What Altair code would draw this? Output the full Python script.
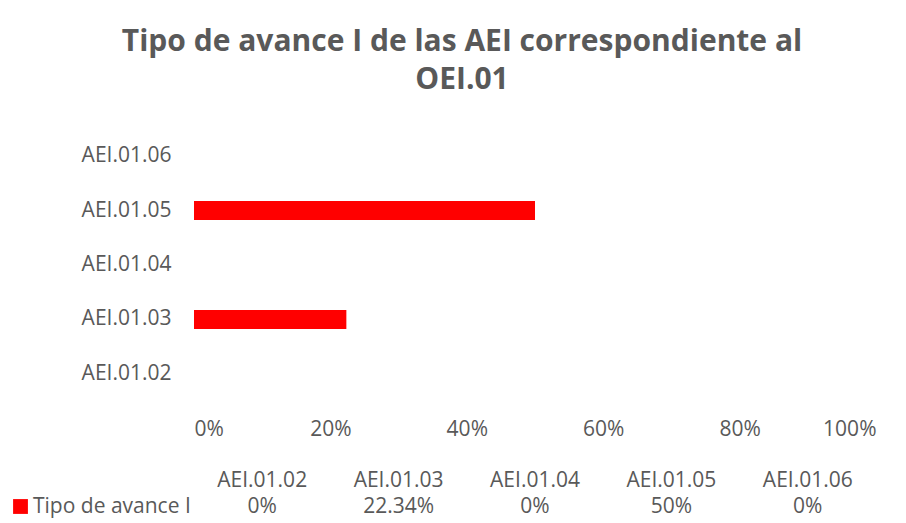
import altair as alt
import pandas as pd

title_lines = ["Tipo de avance I de las AEI correspondiente al", "OEI.01"]
categories = ["AEI.01.02", "AEI.01.03", "AEI.01.04", "AEI.01.05", "AEI.01.06"]
values = [0.0, 0.2234, 0.0, 0.5, 0.0]
series_name = "Tipo de avance I"
x_ticks = [0, 0.2, 0.4, 0.6, 0.8, 1.0]

df = pd.DataFrame({"cat": categories, "val": values, "series": [series_name] * len(categories)})

W = 682
H = 272
GRAY = "#595959"
FONT = "Open Sans"
FS = 21

bars = alt.Chart(df).mark_bar(size=19).encode(
    y=alt.Y("cat:N", sort=categories[::-1], title=None,
            scale=alt.Scale(paddingInner=0, paddingOuter=0),
            axis=alt.Axis(domain=False, ticks=False, labelFontSize=FS, labelColor=GRAY,
                          labelFont=FONT, labelPadding=23)),
    x=alt.X("val:Q", title=None, scale=alt.Scale(domain=[0, 1]),
            axis=alt.Axis(values=x_ticks, format="%", domain=False, ticks=False, grid=False,
                          labelFontSize=FS, labelColor=GRAY, labelFont=FONT, labelPadding=17)),
    color=alt.Color("series:N", scale=alt.Scale(range=["#FF0000"]),
                    legend=alt.Legend(orient="none", legendX=-184, legendY=367, title=None,
                                      symbolType="square", symbolSize=220, symbolStrokeWidth=0,
                                      labelFontSize=FS, labelColor=GRAY, labelFont=FONT,
                                      padding=0, labelOffset=2)),
)

header = alt.Chart(df).mark_text(fontSize=FS, color=GRAY, font=FONT, baseline="middle").encode(
    x=alt.X("cat:N", sort=categories, axis=None,
            scale=alt.Scale(paddingInner=0, paddingOuter=0)),
    y=alt.value(H + 80),
    text="cat:N",
)

vals = alt.Chart(df).mark_text(fontSize=FS, color=GRAY, font=FONT, baseline="middle").encode(
    x=alt.X("cat:N", sort=categories, axis=None,
            scale=alt.Scale(paddingInner=0, paddingOuter=0)),
    y=alt.value(H + 106),
    text=alt.Text("val:Q", format=".2~%"),
)

chart = alt.layer(bars, header, vals).resolve_scale(x="independent").properties(
    width=W, height=H,
    padding={"left": 2, "top": 19, "right": 5, "bottom": 5},
    title=alt.TitleParams(text=title_lines, anchor="middle", fontSize=30, fontWeight="bold",
                          color=GRAY, font=FONT, lineHeight=38, offset=34, dx=-73),
).configure_view(stroke=None)

chart.save("out.html", embed_options={"renderer": "svg", "actions": False})
